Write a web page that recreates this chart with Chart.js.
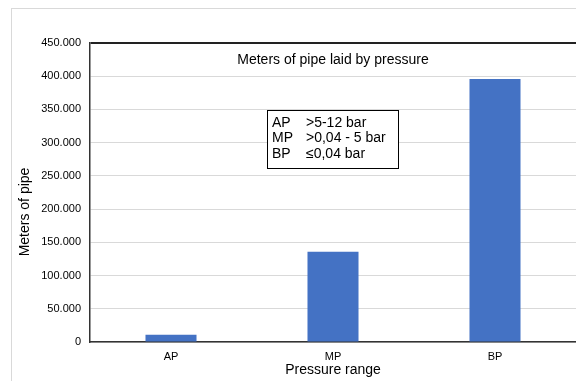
<!DOCTYPE html>
<html>
<head>
<meta charset="utf-8">
<script src="https://cdn.jsdelivr.net/npm/chart.js@4/dist/chart.umd.min.js"></script>
<style>
    html, body { margin: 0; padding: 0; background: #fff; }
    #wrap { position: relative; width: 576px; height: 381px; overflow: hidden; }
    #frame {
        position: absolute; left: 11px; top: 8px; width: 600px; height: 400px;
        border-left: 1px solid #d9d9d9; border-top: 1px solid #d9d9d9;
    }
    #chart { position: absolute; left: 0; top: 0; }
</style>
</head>
<body>
<div id="wrap">
    <div id="frame"></div>
    <canvas id="chart" width="576" height="381"></canvas>
</div>
<script>
// Pipe length per pressure class
const categories = ['AP', 'MP', 'BP'];
const meters = [11000, 136000, 396000];
const pressureLabels = ['AP', 'MP', 'BP'];
const pressureRanges = ['>5-12 bar', '>0,04 - 5 bar', '\u22640,04 bar'];

const FONT = 'Arial, "Liberation Sans", sans-serif';

function formatThousands(v) {
    return String(v).replace(/\B(?=(\d{3})+(?!\d))/g, '.');
}

// Title inside the plot, the pressure key box and the rotated y title
const annotations = {
    id: 'annotations',
    afterDraw(chart) {
        const ctx = chart.ctx;
        const area = chart.chartArea;
        ctx.save();
        ctx.fillStyle = '#000';
        ctx.textBaseline = 'middle';

        ctx.font = '14px ' + FONT;
        ctx.textAlign = 'center';
        ctx.fillText('Meters of pipe laid by pressure', (area.left + area.right) / 2, 60);

        // key box
        ctx.fillStyle = '#fff';
        ctx.fillRect(267, 110, 131, 58);
        ctx.strokeStyle = '#000';
        ctx.lineWidth = 1;
        ctx.strokeRect(267.5, 110.5, 131, 58);
        ctx.fillStyle = '#000';
        ctx.font = '14px ' + FONT;
        ctx.textAlign = 'left';
        pressureLabels.forEach((lbl, i) => {
            const y = 123 + i * 15.5;
            ctx.fillText(lbl, 272, y);
            ctx.fillText(pressureRanges[i], 306, y);
        });

        ctx.translate(25, 212);
        ctx.rotate(-Math.PI / 2);
        ctx.textAlign = 'center';
        ctx.font = '14px ' + FONT;
        ctx.fillText('Meters of pipe', 0, 0);
        ctx.restore();
    }
};

new Chart(document.getElementById('chart'), {
    type: 'bar',
    data: {
        labels: categories,
        datasets: [{
            label: 'Meters of pipe',
            data: meters,
            backgroundColor: '#4472c4',
            categoryPercentage: 1,
            barPercentage: 0.315
        }]
    },
    options: {
        responsive: false,
        animation: false,
        layout: { padding: { top: 43, left: 0, right: 0, bottom: 0 } },
        plugins: {
            legend: { display: false },
            tooltip: { enabled: false }
        },
        scales: {
            x: {
                afterFit: scale => { scale.height = 39; },
                grid: { display: false, drawTicks: false },
                border: { display: true, color: '#333', width: 1.5 },
                ticks: {
                    padding: 8,
                    color: '#000',
                    font: { family: FONT, size: 11 }
                },
                title: {
                    display: true,
                    text: 'Pressure range',
                    color: '#000',
                    font: { family: FONT, size: 14 },
                    padding: { top: 0, bottom: 2 }
                }
            },
            y: {
                min: 0,
                max: 450000,
                afterFit: scale => { scale.width = 90; },
                grid: {
                    drawTicks: false,
                    color: c => c.tick && c.tick.value === 450000 ? '#222' : '#d9d9d9',
                    lineWidth: c => c.tick && c.tick.value === 450000 ? 2 : 1
                },
                border: { display: true, color: '#333', width: 1.5 },
                ticks: {
                    stepSize: 50000,
                    padding: 9,
                    color: '#000',
                    font: { family: FONT, size: 11 },
                    callback: v => formatThousands(v)
                }
            }
        }
    },
    plugins: [annotations]
});
</script>
</body>
</html>
